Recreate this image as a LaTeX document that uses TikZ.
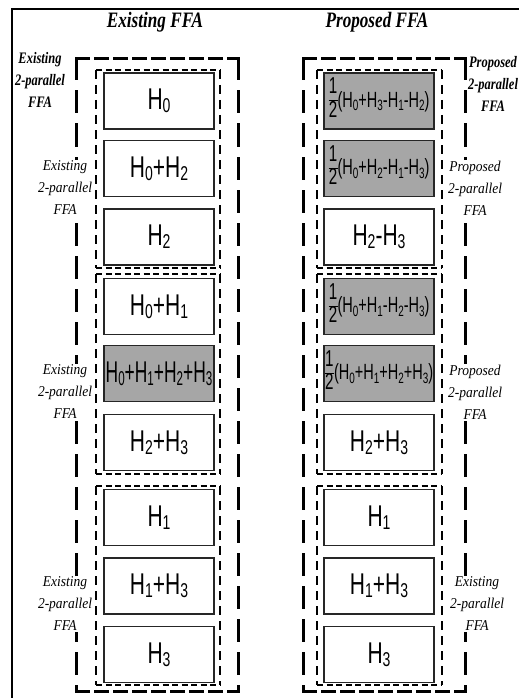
\documentclass[tikz,border=0pt]{standalone}
\usepackage{fontspec}
\usepackage{graphicx}
\setmainfont{Liberation Sans}
\newfontfamily\labelfont{Liberation Serif}

\definecolor{boxgray}{RGB}{166,166,166}

% H with a subscript, large (single terms) and small (inside the halves)
\newcommand{\Hb}[1]{H\raisebox{-3pt}{\fontsize{20}{20}\selectfont#1}}
\newcommand{\Hs}[1]{H\raisebox{-3.5pt}{\fontsize{15}{15}\selectfont#1}}
% large term set in a narrow face
\newcommand{\bigterm}[2][0.7]{\scalebox{#1}[1]{\fontsize{30}{30}\selectfont #2}}
% the stacked 1 over 2
\newcommand{\halfsym}{{\fontsize{23}{22}\selectfont
  \setlength{\arrayrulewidth}{1.1pt}\renewcommand{\arraystretch}{1}%
  \begin{tabular}{@{\hspace{0.5pt}}c@{\hspace{0.5pt}}}1\\\hline 2\end{tabular}}}
\newcommand{\halfterm}[1]{\scalebox{0.66}[1]{\fontsize{22}{22}\selectfont\halfsym(#1)}}

\tikzset{
  x=1pt, y=-1pt,
  blk/.style={draw=black!85, line width=1.4pt, minimum width=110pt,
    minimum height=56pt, inner sep=0pt, fill=white},
  shaded/.style={blk, fill=boxgray},
  outerH/.style={line width=3pt, line cap=rect, dash pattern=on 12pt off 7pt},
  outerV/.style={line width=3pt, line cap=rect, dash pattern=on 20pt off 13pt},
  innerH/.style={line width=1.3pt, dash pattern=on 6pt off 3.5pt},
  innerV/.style={line width=1.3pt, dash pattern=on 9pt off 6pt},
  title/.style={font=\labelfont\bfseries\itshape\fontsize{22}{24}\selectfont,
    xscale=0.78, anchor=base, inner sep=0pt},
  toplabel/.style={font=\labelfont\bfseries\itshape\fontsize{16}{22}\selectfont,
    align=center, inner sep=0pt, xscale=0.78},
  grouplabel/.style={font=\labelfont\itshape\fontsize{15}{22}\selectfont,
    align=center, fill=white, inner sep=1pt, xscale=0.9},
}

% four dashed sides: horizontal style, vertical style, x1, y1, x2, y2
\newcommand{\dashframe}[6]{%
  \draw[#1] (#3,#4) -- (#5,#4);
  \draw[#1] (#3,#6) -- (#5,#6);
  \draw[#2] (#3,#4) -- (#3,#6);
  \draw[#2] (#5,#4) -- (#5,#6);}

\begin{document}
\begin{tikzpicture}
\useasboundingbox (0,0) rectangle (519,698);

% page frame
\draw[line width=2pt] (12,698) -- (12,9) -- (519,9);

% titles
\node[title] (tE) at (155,28) {Existing FFA};
\node[title] (tP) at (377,28) {Proposed FFA};

% outer 4-parallel groups
\dashframe{outerH}{outerV}{76}{59}{238}{691}
\dashframe{outerH}{outerV}{303}{59}{465}{691}

% group labels
\node[toplabel] (lbTL) at (40,80) {Existing\\2-parallel\\FFA};
\node[toplabel] (lbTR) at (493,84) {Proposed\\2-parallel\\FFA};
\node[grouplabel] (lbL1) at (65,188) {Existing\\2-parallel\\FFA};
\node[grouplabel] (lbL2) at (65,392) {Existing\\2-parallel\\FFA};
\node[grouplabel] (lbL3) at (65,604) {Existing\\2-parallel\\FFA};
\node[grouplabel] (lbR1) at (475,188) {Proposed\\2-parallel\\FFA};
\node[grouplabel] (lbR2) at (475,392) {Proposed\\2-parallel\\FFA};
\node[grouplabel] (lbR3) at (477,604) {Existing\\2-parallel\\FFA};

% inner 2-parallel groups
\dashframe{innerH}{innerV}{96}{70}{220}{268}
\dashframe{innerH}{innerV}{96}{274}{220}{474}
\dashframe{innerH}{innerV}{96}{486}{220}{685}
\dashframe{innerH}{innerV}{317}{70}{442}{268}
\dashframe{innerH}{innerV}{317}{274}{442}{474}
\dashframe{innerH}{innerV}{317}{486}{442}{685}

% existing sub-filters
\node[blk] (L1) at (159,101) {\bigterm{\Hb{0}}};
\node[blk] (L2) at (159,168.5) {\bigterm{\Hb{0}+\Hb{2}}};
\node[blk] (L3) at (159,237) {\bigterm{\Hb{2}}};
\node[blk] (L4) at (159,306.5) {\bigterm{\Hb{0}+\Hb{1}}};
\node[shaded] (L5) at (159,373.5) {\bigterm[0.58]{\Hb{0}+\Hb{1}+\Hb{2}+\Hb{3}}};
\node[blk] (L6) at (159,442.5) {\bigterm{\Hb{2}+\Hb{3}}};
\node[blk] (L7) at (159,517.5) {\bigterm{\Hb{1}}};
\node[blk] (L8) at (159,586) {\bigterm{\Hb{1}+\Hb{3}}};
\node[blk] (L9) at (159,654.5) {\bigterm{\Hb{3}}};

% proposed sub-filters
\node[shaded] (R1) at (379,101) {\halfterm{\Hs{0}+\Hs{3}-\Hs{1}-\Hs{2}}};
\node[shaded] (R2) at (379,168.5) {\halfterm{\Hs{0}+\Hs{2}-\Hs{1}-\Hs{3}}};
\node[blk] (R3) at (379,237) {\bigterm{\Hb{2}-\Hb{3}}};
\node[shaded] (R4) at (379,306.5) {\halfterm{\Hs{0}+\Hs{1}-\Hs{2}-\Hs{3}}};
\node[shaded] (R5) at (379,373.5) {\halfterm{\Hs{0}+\Hs{1}+\Hs{2}+\Hs{3}}};
\node[blk] (R6) at (379,442.5) {\bigterm{\Hb{2}+\Hb{3}}};
\node[blk] (R7) at (379,517.5) {\bigterm{\Hb{1}}};
\node[blk] (R8) at (379,586) {\bigterm{\Hb{1}+\Hb{3}}};
\node[blk] (R9) at (379,654.5) {\bigterm{\Hb{3}}};
\end{tikzpicture}
\end{document}
